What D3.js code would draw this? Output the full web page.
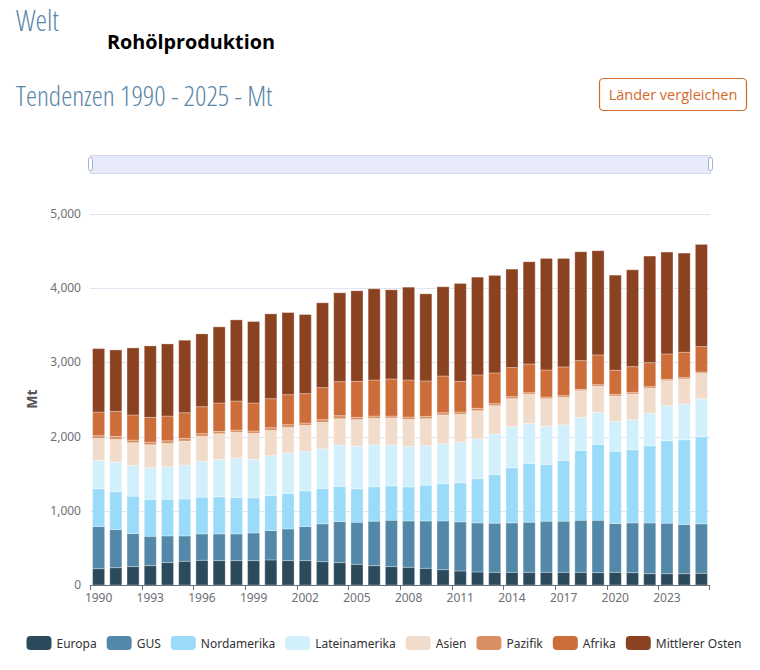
<!DOCTYPE html>
<html lang="de">
<head>
<meta charset="utf-8">
<title>Welt - Rohölproduktion</title>
<script src="https://cdn.jsdelivr.net/npm/d3@7"></script>
<style>
    body { margin: 0; background: #fff; }
    .heading { font-family: "Open Sans", sans-serif; font-weight: 300; font-stretch: 75%; fill: #5a86a8; }
    .axis-label { font-family: "Noto Sans", "Open Sans", sans-serif; font-size: 12px; fill: #6e7079; }
    .legend-label { font-family: "Noto Sans", "Open Sans", sans-serif; font-size: 12px; fill: #333; }
</style>
</head>
<body>
<svg id="chart" width="760" height="670"></svg>
<script>
// Jahre (Kategorien)
const years = [1990, 1991, 1992, 1993, 1994, 1995, 1996, 1997, 1998, 1999,
    2000, 2001, 2002, 2003, 2004, 2005, 2006, 2007, 2008, 2009,
    2010, 2011, 2012, 2013, 2014, 2015, 2016, 2017, 2018, 2019,
    2020, 2021, 2022, 2023, 2024, 2025];

// Produktion je Region in Mt
const europa = [220, 234, 248, 261, 302, 320, 333, 329, 329, 329, 338, 329, 329, 315, 302, 279, 261, 248, 239, 225,
    207, 189, 176, 171, 171, 171, 171, 171, 171, 167, 171, 167, 153, 153, 153, 158];
const gus = [568, 513, 445, 396, 360, 342, 356, 360, 360, 373, 396, 427, 459, 509, 553, 567, 599, 625, 625, 639,
    657, 662, 661, 662, 666, 675, 689, 689, 702, 706, 657, 670, 684, 680, 662, 666];
const nordamerika = [508, 509, 504, 495, 495, 499, 495, 499, 490, 473, 472, 477, 481, 477, 473, 450, 463, 464, 459, 482,
    500, 526, 594, 657, 743, 792, 765, 819, 941, 1022, 972, 986, 1040, 1111, 1143, 1174];
const lateinamerika = [383, 400, 414, 428, 436, 455, 481, 504, 531, 517, 536, 545, 536, 535, 558, 576, 567, 549, 545, 531,
    540, 549, 540, 544, 553, 540, 513, 481, 445, 432, 401, 405, 436, 473, 481, 513];
const asien = [297, 306, 306, 310, 315, 324, 338, 347, 347, 351, 342, 346, 346, 356, 355, 356, 356, 364, 364, 364,
    387, 374, 378, 383, 378, 392, 373, 369, 360, 351, 346, 346, 338, 337, 338, 342];
const pazifik = [36, 41, 36, 36, 36, 36, 36, 31, 31, 32, 36, 36, 32, 36, 41, 31, 31, 27, 32, 32,
    31, 31, 32, 27, 27, 22, 23, 23, 18, 22, 23, 23, 22, 18, 18, 18];
const afrika = [319, 337, 338, 333, 333, 346, 364, 383, 392, 378, 391, 405, 396, 432, 459, 486, 486, 500, 499, 477,
    495, 414, 450, 414, 392, 387, 364, 387, 387, 401, 324, 346, 324, 342, 342, 342];
const mittlererOsten = [855, 828, 904, 963, 972, 977, 981, 1026, 1093, 1098, 1143, 1107, 1066, 1143, 1197, 1220, 1229, 1201, 1251, 1174,
    1202, 1319, 1318, 1314, 1327, 1377, 1503, 1462, 1467, 1404, 1282, 1305, 1436, 1373, 1336, 1377];

const seriesNames = ["Europa", "GUS", "Nordamerika", "Lateinamerika", "Asien", "Pazifik", "Afrika", "Mittlerer Osten"];
const seriesValues = [europa, gus, nordamerika, lateinamerika, asien, pazifik, afrika, mittlererOsten];
const seriesColors = ["#2b4a5c", "#5388a8", "#9adbfa", "#d2f0fc", "#f1dccb", "#d98f63", "#cd6d39", "#8b4220"];

const yTicks = [0, 1000, 2000, 3000, 4000, 5000];

const svg = d3.select('#chart');

// Überschriften
svg.append('text')
    .attr('class', 'heading')
    .attr('x', 16)
    .attr('y', 31)
    .style('font-size', '29px')
    .text('Welt');

svg.append('text')
    .attr('x', 107)
    .attr('y', 49)
    .style('font-family', '"Open Sans", sans-serif')
    .style('font-weight', 700)
    .style('font-size', '19.8px')
    .style('fill', '#000')
    .text('Rohölproduktion');

svg.append('text')
    .attr('class', 'heading')
    .attr('x', 16)
    .attr('y', 106)
    .style('font-size', '28px')
    .text('Tendenzen 1990 - 2025 - Mt');

// Button
svg.append('rect')
    .attr('x', 599.5)
    .attr('y', 78.5)
    .attr('width', 147)
    .attr('height', 32)
    .attr('rx', 4)
    .attr('fill', '#fff')
    .attr('stroke', '#d2692c')
    .attr('stroke-width', 1.2);

svg.append('text')
    .attr('x', 673)
    .attr('y', 100)
    .attr('text-anchor', 'middle')
    .style('font-family', '"Open Sans", sans-serif')
    .style('font-size', '14.5px')
    .style('fill', '#d2692c')
    .text('Länder vergleichen');

// Diagrammbereich
const plotLeft = 90, plotRight = 710, plotTop = 214, plotBottom = 585;

const x = d3.scaleBand()
    .domain(years)
    .range([plotLeft, plotRight])
    .paddingInner(0.3)
    .paddingOuter(0.15);

const y = d3.scaleLinear()
    .domain([0, 5000])
    .range([plotBottom, plotTop]);

// Zoom-Schieber (nur Darstellung)
const slider = svg.append('g');
slider.append('rect')
    .attr('x', plotLeft + 0.5)
    .attr('y', 155.5)
    .attr('width', plotRight - plotLeft)
    .attr('height', 18)
    .attr('fill', '#e8ebfb')
    .attr('stroke', '#d3d8ee');
[plotLeft + 0.5, plotRight + 0.5].forEach(px => {
    slider.append('rect')
        .attr('x', px - 2)
        .attr('y', 157.5)
        .attr('width', 4)
        .attr('height', 13)
        .attr('rx', 2)
        .attr('fill', '#fff')
        .attr('stroke', '#a7b1c9');
});

// Gitterlinien
svg.append('g')
    .selectAll('line')
    .data(yTicks.slice(1))
    .join('line')
    .attr('x1', plotLeft)
    .attr('x2', plotRight)
    .attr('y1', d => Math.round(y(d)) + 0.5)
    .attr('y2', d => Math.round(y(d)) + 0.5)
    .attr('stroke', '#e0e6f1');

// Y-Achse Beschriftung
svg.append('g')
    .selectAll('text')
    .data(yTicks)
    .join('text')
    .attr('class', 'axis-label')
    .attr('x', 81)
    .attr('y', d => y(d) + 4)
    .attr('text-anchor', 'end')
    .text(d => d3.format(',')(d));

svg.append('text')
    .attr('transform', 'translate(37,399) rotate(-90)')
    .attr('text-anchor', 'middle')
    .style('font-family', '"Noto Sans", sans-serif')
    .style('font-weight', 700)
    .style('font-size', '14px')
    .style('fill', '#555')
    .text('Mt');

// Gestapelte Balken
const rows = years.map((yr, i) => {
    const row = { year: yr };
    seriesNames.forEach((name, k) => { row[name] = seriesValues[k][i]; });
    return row;
});

const stacked = d3.stack().keys(seriesNames)(rows);

svg.append('g')
    .selectAll('g')
    .data(stacked)
    .join('g')
    .attr('fill', (d, i) => seriesColors[i])
    .selectAll('rect')
    .data(d => d)
    .join('rect')
    .attr('x', d => x(d.data.year))
    .attr('width', x.bandwidth())
    .attr('y', d => y(d[1]))
    .attr('height', d => y(d[0]) - y(d[1]))
    .attr('stroke', 'rgba(255,255,255,0.3)')
    .attr('stroke-width', 1);

// X-Achse
const xAxis = svg.append('g');
xAxis.append('line')
    .attr('x1', plotLeft)
    .attr('x2', plotRight)
    .attr('y1', plotBottom + 0.5)
    .attr('y2', plotBottom + 0.5)
    .attr('stroke', '#6e7079');

const labelYears = years.filter((yr, i) => i % 3 === 0);
const boundary = yr => x(yr) - x.step() * x.paddingOuter();

xAxis.selectAll('.tick')
    .data(labelYears)
    .join('line')
    .attr('class', 'tick')
    .attr('x1', d => Math.round(boundary(d)) + 0.5)
    .attr('x2', d => Math.round(boundary(d)) + 0.5)
    .attr('y1', plotBottom)
    .attr('y2', plotBottom + 5)
    .attr('stroke', '#6e7079');

xAxis.append('line')
    .attr('x1', plotRight - 0.5)
    .attr('x2', plotRight - 0.5)
    .attr('y1', plotBottom)
    .attr('y2', plotBottom + 5)
    .attr('stroke', '#6e7079');

xAxis.selectAll('.xlabel')
    .data(labelYears)
    .join('text')
    .attr('class', 'axis-label xlabel')
    .attr('x', d => x(d) + x.bandwidth() / 2)
    .attr('y', 602)
    .attr('text-anchor', 'middle')
    .text(d => d);

// Legende
const legend = svg.append('g');
let offset = 0;
seriesNames.forEach((name, i) => {
    const item = legend.append('g');
    item.append('rect')
        .attr('x', 0)
        .attr('y', 636)
        .attr('width', 25)
        .attr('height', 14)
        .attr('rx', 4)
        .attr('fill', seriesColors[i]);
    const label = item.append('text')
        .attr('class', 'legend-label')
        .attr('x', 30)
        .attr('y', 647.5)
        .text(name);
    const w = 30 + label.node().getComputedTextLength();
    item.attr('transform', `translate(${offset},0)`);
    offset += w + 10;
});
const legendWidth = offset - 10;
legend.attr('transform', `translate(${384 - legendWidth / 2},0)`);
</script>
</body>
</html>
